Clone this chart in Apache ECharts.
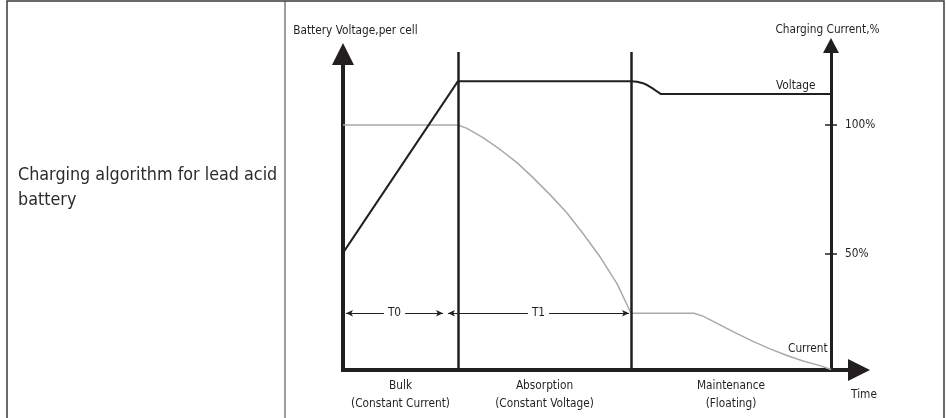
<!DOCTYPE html>
<html><head><meta charset="utf-8">
<script src="https://cdn.jsdelivr.net/npm/echarts@6/dist/echarts.min.js"></script>
<style>html,body{margin:0;padding:0;background:#fff}#c{width:946px;height:418px}</style>
</head><body><div id="c"></div>
<script>
// ---- data (time in arbitrary units, level in % of charging current scale) ----
const voltageX = [0, 115, 288, 294, 300, 305, 310, 314, 318, 488];
const voltageY = [50.4, 117, 117, 116.8, 116.2, 115.3, 114.1, 113, 112, 112];
const currentX = [0, 115, 124, 140, 157, 174, 190, 207, 224, 240, 257, 274, 288, 351, 360, 377, 394, 410, 427, 444, 460, 477, 488];
const currentY = [100, 100, 98.7, 95.1, 90.5, 85.4, 79.6, 73.0, 65.9, 57.9, 48.9, 38.5, 27, 27, 25.9, 22.5, 19.1, 16.1, 13.2, 10.6, 8.5, 6.7, 5.2];
const phaseBounds = [0, 115, 288, 488];
const phaseNames = ['Bulk', 'Absorption', 'Maintenance'];
const phaseModes = ['(Constant Current)', '(Constant Voltage)', '(Floating)'];
const percentTicks = [50, 100];
const timerNames = ['T0', 'T1'];
const timerStart = [3, 105];
const timerEnd = [100, 286];
const timerLevel = 27;
const axisMin = 5, axisMax = 128.3, timeMax = 516;

const FONT = "'DejaVu Sans Condensed', 'Noto Sans', sans-serif";
const FS = 11.75;
const INK = '#231f20';
const GRAY = '#a7a9ac';
const phaseMids = phaseNames.map((_, i) => (phaseBounds[i] + phaseBounds[i + 1]) / 2);

const chart = echarts.init(document.getElementById('c'));
chart.setOption({
  animation: false,
  textStyle: { fontFamily: FONT },
  title: {
    text: 'Charging algorithm for lead acid\nbattery', left: 13, top: 158,
    textStyle: { fontSize: 17.8, fontWeight: 'normal', color: '#2b2b2b', lineHeight: 25, fontFamily: FONT }
  },
  graphic: [
    { type: 'rect', silent: true, shape: { x: 7, y: 1, width: 937, height: 440 }, style: { fill: 'none', stroke: '#3a3a3a', lineWidth: 1.5 } },
    { type: 'line', silent: true, shape: { x1: 285, y1: 1, x2: 285, y2: 418 }, style: { stroke: '#3a3a3a', lineWidth: 1 } }
  ],
  grid: { left: 343, right: 87, top: 52, bottom: 48 },
  xAxis: {
    type: 'value', min: 0, max: timeMax,
    axisLine: { onZero: false, symbol: ['none', 'triangle'], symbolSize: [22, 22], lineStyle: { color: INK, width: 4, cap: 'square' } },
    axisTick: { show: false }, splitLine: { show: false },
    axisLabel: {
      customValues: phaseMids, color: INK, fontSize: FS, lineHeight: 18, margin: 7, fontFamily: FONT,
      formatter: v => { const i = phaseMids.findIndex(m => Math.abs(m - v) < 1e-6); return i < 0 ? '' : phaseNames[i] + '\n' + phaseModes[i]; }
    },
    name: 'Time', nameLocation: 'end', nameGap: 5,
    nameTextStyle: { color: INK, fontSize: FS, fontFamily: FONT, align: 'center', verticalAlign: 'top', padding: [19, 0, 0, 0] }
  },
  yAxis: [
    {
      type: 'value', min: axisMin, max: axisMax, position: 'left',
      axisLine: { show: true, symbol: ['none', 'triangle'], symbolSize: [22, 22], symbolOffset: [0, -2], lineStyle: { color: INK, width: 4, cap: 'square' } },
      axisTick: { show: false }, axisLabel: { show: false }, splitLine: { show: false },
      name: 'Battery Voltage,per cell', nameLocation: 'end', nameGap: 15,
      nameTextStyle: { color: INK, fontSize: FS, fontFamily: FONT, align: 'center', padding: [0, 0, 0, 25] }
    },
    {
      type: 'value', min: axisMin, max: axisMax, position: 'right', offset: -28,
      axisLine: { show: true, symbol: ['none', 'triangle'], symbolSize: [16, 15], symbolOffset: [0, 6.5], lineStyle: { color: INK, width: 3 } },
      axisTick: { show: false }, axisLabel: { show: false }, splitLine: { show: false },
      name: 'Charging Current,%', nameLocation: 'end', nameGap: 16,
      nameTextStyle: { color: INK, fontSize: FS, fontFamily: FONT, align: 'center', padding: [0, 7, 0, 0] }
    },
    {
      type: 'value', min: axisMin, max: axisMax, position: 'right', offset: -34,
      axisLine: { show: false },
      axisTick: { show: true, customValues: percentTicks, length: 12, lineStyle: { color: INK, width: 1.5 } },
      axisLabel: { customValues: percentTicks, formatter: '{value}%', margin: 20, color: INK, fontSize: FS, fontFamily: FONT },
      splitLine: { show: false }
    }
  ],
  series: [
    {
      type: 'line', name: 'Voltage', yAxisIndex: 0, symbol: 'none', showSymbol: false,
      data: voltageX.map((x, i) => [x, voltageY[i]]),
      lineStyle: { color: INK, width: 2 },
      endLabel: { show: true, formatter: 'Voltage', color: INK, fontSize: FS, fontFamily: FONT, offset: [-63, -8] },
      markLine: {
        silent: true, symbol: 'none', label: { show: false },
        lineStyle: { color: INK, width: 2.5, type: 'solid' },
        data: phaseBounds.slice(1, 3).map(x => ({ xAxis: x }))
      },
      z: 3
    },
    {
      type: 'line', name: 'Current', yAxisIndex: 0, symbol: 'none', showSymbol: false,
      data: currentX.map((x, i) => [x, currentY[i]]),
      lineStyle: { color: GRAY, width: 1.5 },
      endLabel: { show: true, formatter: 'Current', color: INK, fontSize: FS, fontFamily: FONT, offset: [-51, -21] },
      markLine: {
        silent: true, symbol: ['arrow', 'arrow'], symbolSize: [5, 7],
        lineStyle: { color: INK, width: 1, type: 'solid' },
        label: { show: true, position: 'insideMiddle', formatter: '{b}', color: INK, fontSize: FS, fontFamily: FONT, backgroundColor: '#fff', padding: [0, 4] },
        data: timerNames.map((n, i) => [{ name: n, coord: [timerStart[i], timerLevel] }, { coord: [timerEnd[i], timerLevel] }])
      },
      z: 2
    }
  ]
});
</script></body></html>
